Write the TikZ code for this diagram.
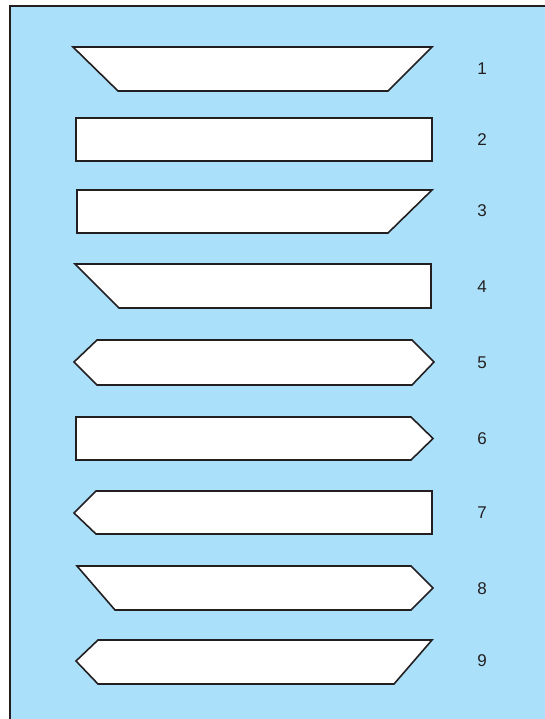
\documentclass[tikz,border=0pt]{standalone}
\usepackage{fontspec}
\setmainfont{Liberation Sans}
\usepackage{tikz}
\definecolor{skyfill}{RGB}{170,224,250}
\definecolor{inkdark}{RGB}{35,31,32}

\begin{document}
\begin{tikzpicture}[x=1pt,y=-1pt]
  % strip shapes with their numbers
  \tikzset{strip/.style={draw=inkdark,fill=white,line width=1.6pt,line join=miter},
           num/.style={text=inkdark,font=\fontsize{17}{20}\selectfont,inner sep=0pt}}
  \useasboundingbox (0,0) rectangle (544,719);
  \fill[skyfill] (10,6) rectangle (548,723);
  \draw[inkdark,line width=2.6pt] (10,723) -- (10,6) -- (548,6);
  \draw[strip] (73,47) -- (432,47) -- (388,91) -- (118,91) -- cycle;
  \draw[strip] (76,118) rectangle (432,161);
  \draw[strip] (77,190) -- (432,190) -- (388,233) -- (77,233) -- cycle;
  \draw[strip] (75,264) -- (431,264) -- (431,308) -- (119,308) -- cycle;
  \draw[strip] (74,362) -- (97,340) -- (412,340) -- (434,362) -- (412,385) -- (97,385) -- cycle;
  \draw[strip] (76,417) -- (411,417) -- (433,438.5) -- (411,460) -- (76,460) -- cycle;
  \draw[strip] (74,513) -- (96,491) -- (432,491) -- (432,534) -- (96,534) -- cycle;
  \draw[strip] (77,566) -- (411,566) -- (433,588) -- (411,610) -- (115,610) -- cycle;
  \draw[strip] (76,661) -- (98,640) -- (432,640) -- (394,684) -- (98,684) -- cycle;
  \foreach \n/\y in {1/69,2/140,3/211,4/287,5/363,6/439,7/513,8/589,9/661}
    \node[num] (lbl\n) at (482,\y) {\n};
\end{tikzpicture}
\end{document}
